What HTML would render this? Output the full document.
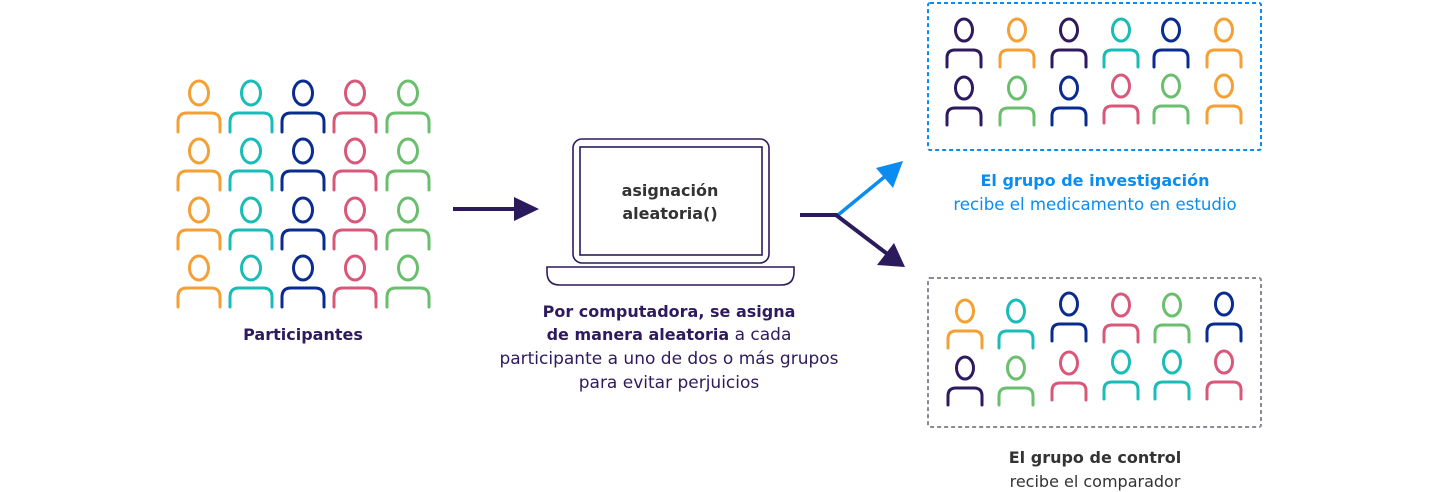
<!DOCTYPE html>
<html><head><meta charset="utf-8"><style>
html,body{margin:0;padding:0;background:#fff;}
svg{display:block;}
text{font-family:"DejaVu Sans","Liberation Sans",sans-serif;}
</style></head><body>
<svg width="1440" height="492" viewBox="0 0 1440 492" xmlns="http://www.w3.org/2000/svg">
<defs>
<g id="pL" fill="none" stroke="currentColor" stroke-width="3" stroke-linecap="round">
<ellipse cx="0" cy="0" rx="9.5" ry="12"/>
<path d="M-21,39 V29 Q-21,20 -12,20 H12 Q21,20 21,29 V39"/>
</g>
<g id="pS" fill="none" stroke="currentColor" stroke-width="3" stroke-linecap="round">
<ellipse cx="0" cy="0" rx="8.5" ry="11"/>
<path d="M-17,37 V28 Q-17,20 -9,20 H9 Q17,20 17,28 V37"/>
</g>
</defs>

<g>
<use href="#pL" x="199" y="93" color="#f4a035"/><use href="#pL" x="251" y="93" color="#19bdb8"/><use href="#pL" x="303" y="93" color="#0a2b8f"/><use href="#pL" x="355" y="93" color="#d9587a"/><use href="#pL" x="408" y="93" color="#6abf6e"/>
<use href="#pL" x="199" y="151" color="#f4a035"/><use href="#pL" x="251" y="151" color="#19bdb8"/><use href="#pL" x="303" y="151" color="#0a2b8f"/><use href="#pL" x="355" y="151" color="#d9587a"/><use href="#pL" x="408" y="151" color="#6abf6e"/>
<use href="#pL" x="199" y="210" color="#f4a035"/><use href="#pL" x="251" y="210" color="#19bdb8"/><use href="#pL" x="303" y="210" color="#0a2b8f"/><use href="#pL" x="355" y="210" color="#d9587a"/><use href="#pL" x="408" y="210" color="#6abf6e"/>
<use href="#pL" x="199" y="268" color="#f4a035"/><use href="#pL" x="251" y="268" color="#19bdb8"/><use href="#pL" x="303" y="268" color="#0a2b8f"/><use href="#pL" x="355" y="268" color="#d9587a"/><use href="#pL" x="408" y="268" color="#6abf6e"/>
</g>
<text x="303" y="340" text-anchor="middle" font-size="16" font-weight="bold" fill="#2e1a5e">Participantes</text>

<line x1="453" y1="209" x2="516" y2="209" stroke="#2b1a5c" stroke-width="4"/>
<polygon points="514,197 539,209 514,221" fill="#2b1a5c"/>

<rect x="573" y="139" width="196" height="124" rx="9" fill="none" stroke="#2e1a5e" stroke-width="1.6"/>
<rect x="580" y="147" width="182" height="108" fill="none" stroke="#2e1a5e" stroke-width="1.6"/>
<path d="M547,267 H794 V272 Q794,285 781,285 H560 Q547,285 547,272 Z" fill="none" stroke="#2e1a5e" stroke-width="1.6"/>
<text x="670" y="196" text-anchor="middle" font-size="16" font-weight="bold" fill="#333">asignación</text>
<text x="670" y="219" text-anchor="middle" font-size="16" font-weight="bold" fill="#333">aleatoria()</text>

<g font-size="17" fill="#2e1a5e" text-anchor="middle">
<text x="669" y="317" font-weight="bold" font-size="16">Por computadora, se asigna</text>
<text x="669" y="340"><tspan font-weight="bold" font-size="16">de manera aleatoria</tspan> a cada</text>
<text x="669" y="364">participante a uno de dos o más grupos</text>
<text x="669" y="388">para evitar perjuicios</text>
</g>

<line x1="800" y1="215" x2="838" y2="215" stroke="#2b1a5c" stroke-width="4"/>
<line x1="838" y1="215" x2="888" y2="174" stroke="#0a8cf0" stroke-width="3.5"/>
<polygon points="903,161 893,188 876,168" fill="#0a8cf0"/>
<line x1="836" y1="215" x2="890" y2="256" stroke="#2b1a5c" stroke-width="4"/>
<polygon points="905,267 877,265 894,243" fill="#2b1a5c"/>

<rect x="928" y="3" width="333" height="147" rx="2" fill="none" stroke="#0a8cf0" stroke-width="2" stroke-dasharray="4,3"/>
<use href="#pS" x="964" y="30" color="#2e1a5e"/><use href="#pS" x="1017" y="30" color="#f4a035"/><use href="#pS" x="1069" y="30" color="#2e1a5e"/><use href="#pS" x="1121" y="30" color="#19bdb8"/><use href="#pS" x="1171" y="30" color="#0a2b8f"/><use href="#pS" x="1224" y="30" color="#f4a035"/>
<use href="#pS" x="964" y="88" color="#2e1a5e"/><use href="#pS" x="1017" y="88" color="#6abf6e"/><use href="#pS" x="1069" y="88" color="#0a2b8f"/><use href="#pS" x="1121" y="86" color="#d9587a"/><use href="#pS" x="1171" y="86" color="#6abf6e"/><use href="#pS" x="1224" y="86" color="#f4a035"/>
<text x="1095" y="186" text-anchor="middle" font-size="16" font-weight="bold" fill="#0a8cf0">El grupo de investigación</text>
<text x="1095" y="210" text-anchor="middle" font-size="16.6" fill="#0a8cf0">recibe el medicamento en estudio</text>

<rect x="928" y="278" width="333" height="149" rx="2" fill="none" stroke="#888a94" stroke-width="2" stroke-dasharray="4,3"/>
<use href="#pS" x="965" y="311" color="#f4a035"/><use href="#pS" x="1016" y="311" color="#19bdb8"/><use href="#pS" x="1069" y="304" color="#0a2b8f"/><use href="#pS" x="1121" y="305" color="#d9587a"/><use href="#pS" x="1172" y="305" color="#6abf6e"/><use href="#pS" x="1224" y="304" color="#0a2b8f"/>
<use href="#pS" x="965" y="368" color="#2e1a5e"/><use href="#pS" x="1016" y="368" color="#6abf6e"/><use href="#pS" x="1069" y="363" color="#d9587a"/><use href="#pS" x="1121" y="362" color="#19bdb8"/><use href="#pS" x="1172" y="362" color="#19bdb8"/><use href="#pS" x="1224" y="362" color="#d9587a"/>
<text x="1095" y="463" text-anchor="middle" font-size="16" font-weight="bold" fill="#333">El grupo de control</text>
<text x="1095" y="487" text-anchor="middle" font-size="16" fill="#333">recibe el comparador</text>
</svg>
</body></html>
